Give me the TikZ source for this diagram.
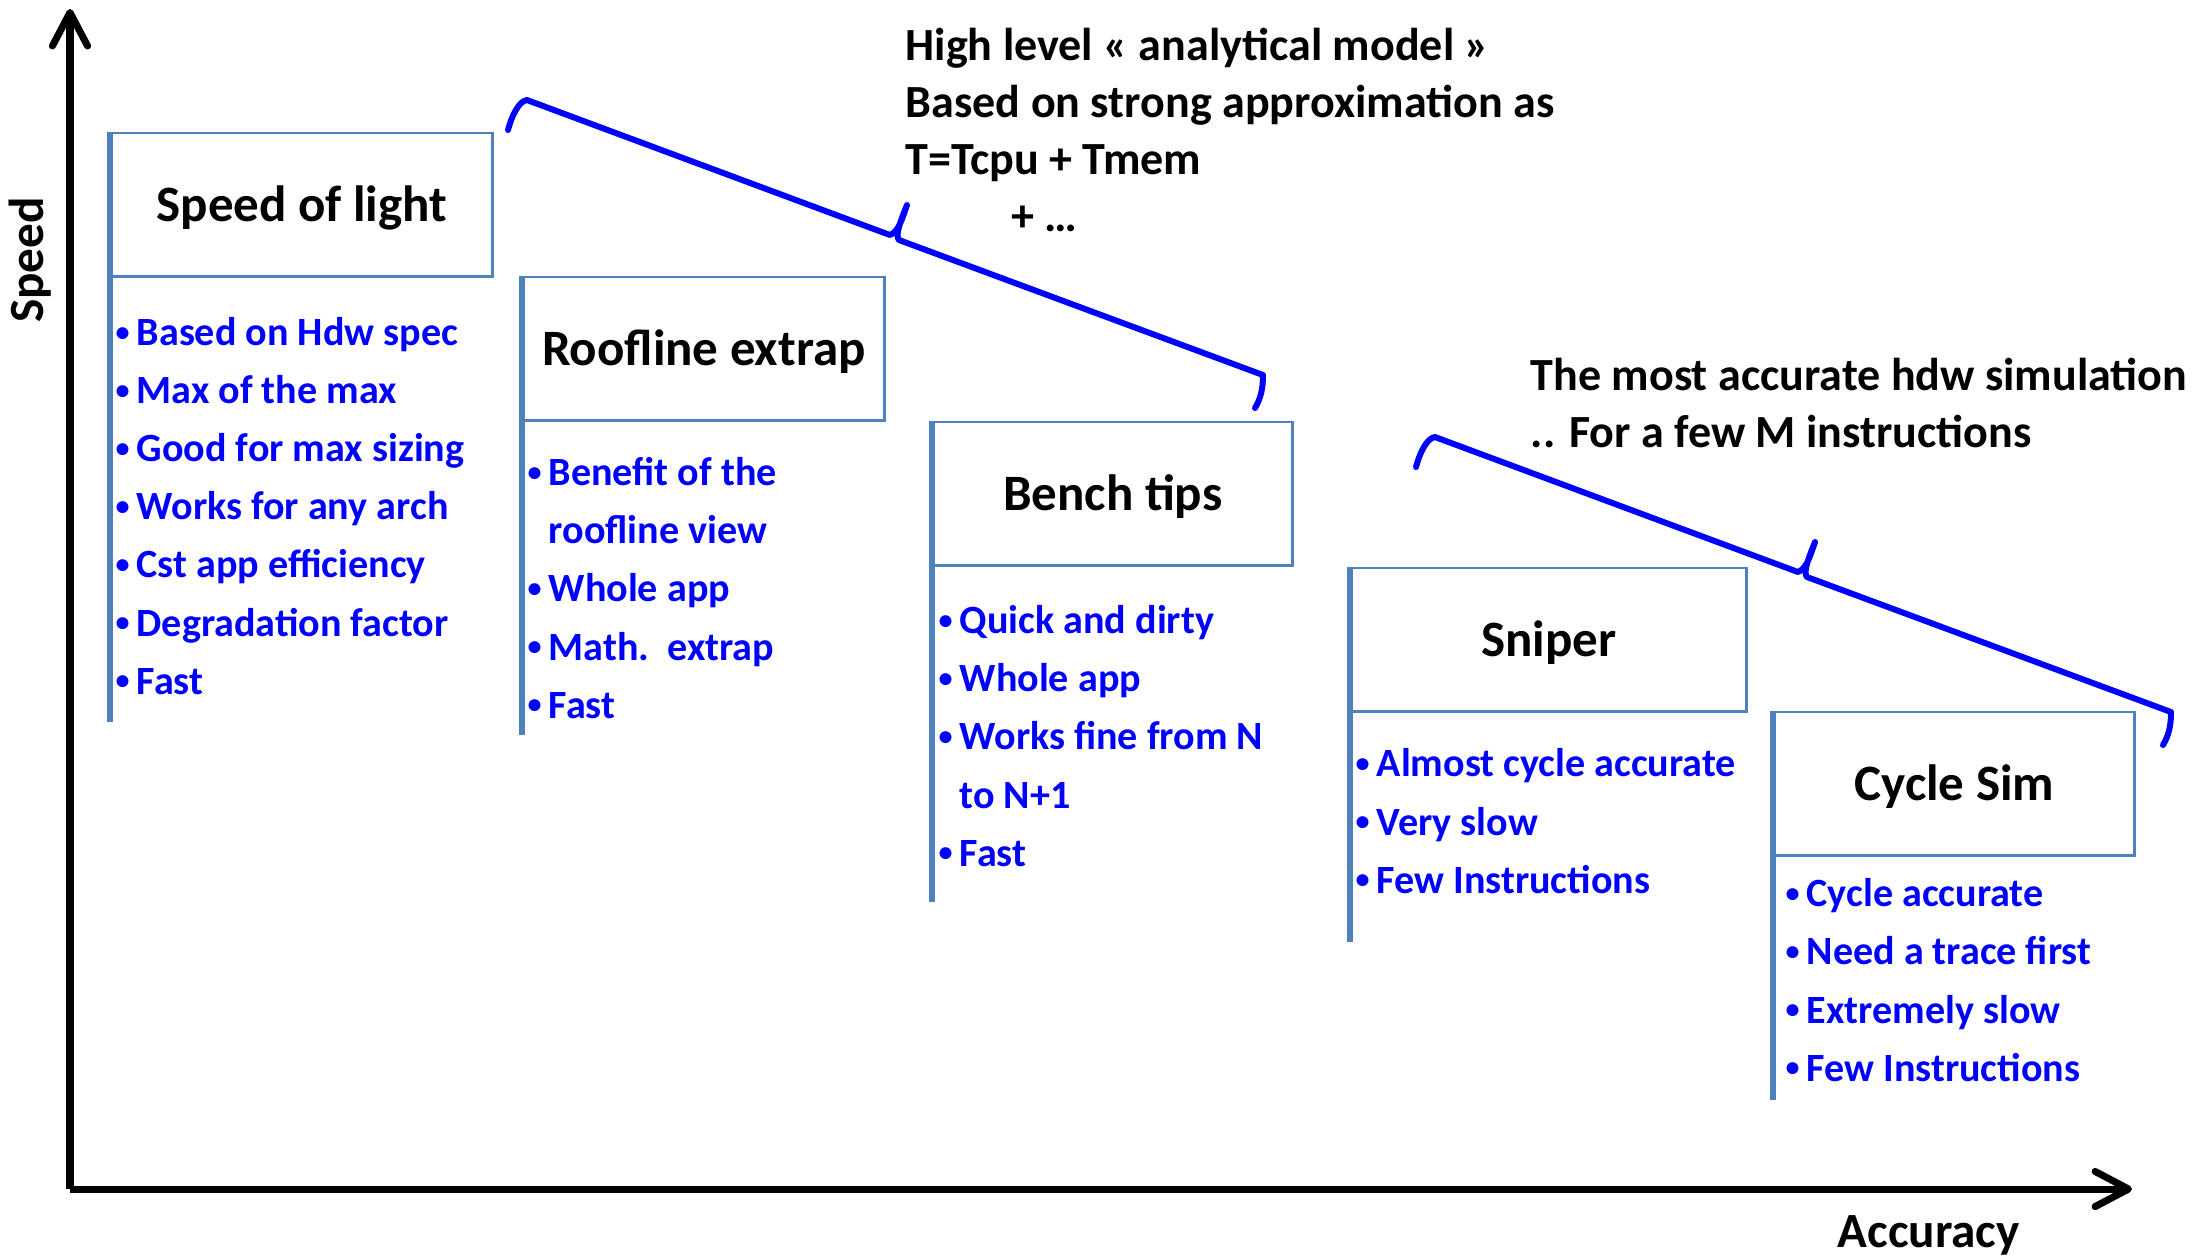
\documentclass[tikz,border=0pt]{standalone}
\usepackage{fontspec}
\setmainfont{Carlito}
\usepackage{tikz}
\usetikzlibrary{arrows.meta,calc,positioning}

\definecolor{boxblue}{HTML}{4F81BD}
\definecolor{itemblue}{HTML}{0000FF}
\newcommand{\itemdot}{\llap{\makebox[8pt]{\raisebox{1.2pt}{\fontsize{8}{8}\selectfont\textbullet}}}}

\begin{document}
\begin{tikzpicture}[x=0.01cm, y=-0.01cm,
    axis/.style={line width=2pt, -{Straight Barb[length=9.5pt, width=10pt, round]}},
    axislabel/.style={inner sep=0, font=\fontsize{14}{17}\selectfont\bfseries},
    header/.style={draw=boxblue, line width=0.7pt, anchor=north west, minimum height=1.43cm,
        text height=9.3pt, text depth=0pt, font=\fontsize{14.5}{17}\selectfont\bfseries},
    bar/.style={draw=boxblue, line width=1.5pt},
    items/.style={anchor=base west, align=left, inner sep=0, text=itemblue,
        font=\fontsize{11.4}{16.5}\selectfont\bfseries},
    note/.style={anchor=base west, align=left, inner sep=0, font=\fontsize{13.1}{16.2}\selectfont\bfseries},
    brace/.style={draw=itemblue, line width=1.7pt, line cap=round, line join=round}]

    \useasboundingbox (0,0) rectangle (2199,1256);

    % axes
    \coordinate (origin) at (70,1189);
    \draw[axis] (origin) -- (70,9);
    \draw[axis] (origin) -- (2132,1189);
    \node[axislabel, rotate=90, anchor=base] (speed) at (43,260) {Speed};
    \node[axislabel, anchor=base west] (accuracy) at (1837,1247) {Accuracy};

    % model boxes (item lists placed by their last baseline)
    \node[header, minimum width=3.81cm] (sol) at (110,132) {Speed of light};
    \draw[bar] (sol.north west) -- ++(0,590);
    \node[items] (sol-items) at (136,694) {\itemdot Based on Hdw spec\\ \itemdot Max of the max\\
        \itemdot Good for max sizing\\ \itemdot Works for any arch\\ \itemdot Cst app efficiency\\
        \itemdot Degradation factor\\ \itemdot Fast};

    \node[header, minimum width=3.61cm] (roof) at (522,276) {Roofline extrap};
    \draw[bar] (roof.north west) -- ++(0,459);
    \node[items] (roof-items) at (548,718) {\itemdot Benefit of the\\ roofline view\\
        \itemdot Whole app\\ \itemdot Math.\ \ extrap\\ \itemdot Fast};

    \node[header, minimum width=3.59cm] (bench) at (932,421) {Bench tips};
    \draw[bar] (bench.north west) -- ++(0,481);
    \node[items] (bench-items) at (959,866) {\itemdot Quick and dirty\\ \itemdot Whole app\\
        \itemdot Works fine from N\\ to N+1\\ \itemdot Fast};

    \node[header, minimum width=3.95cm] (sniper) at (1350,567) {Sniper};
    \draw[bar] (sniper.north west) -- ++(0,375);
    \node[items] (sniper-items) at (1376,893) {\itemdot Almost cycle accurate\\
        \itemdot Very slow\\ \itemdot Few Instructions};

    \node[header, minimum width=3.60cm] (cycle) at (1773,711) {Cycle Sim};
    \draw[bar] (cycle.north west) -- ++(0,389);
    \node[items] (cycle-items) at (1806,1081) {\itemdot Cycle accurate\\ \itemdot Need a trace first\\
        \itemdot Extremely slow\\ \itemdot Few Instructions};

    % braces
    \foreach \dx/\dy in {0/0, 908/337} {
        \draw[brace, shift={(\dx,\dy)}] (508,130) .. controls (512,115) and (519,101) .. (527,100)
            -- (890,235) .. controls (898,232) and (902,220) .. (907,205)
            .. controls (900,222) and (895,236) .. (899,240)
            -- (1263,375) .. controls (1263,388) and (1261,398) .. (1255,408);
    }

    % notes
    \node[note] (analytic) at (905,231) {High level « analytical model »\\
        Based on strong approximation as\\ T=Tcpu + Tmem\\ \hspace*{30pt}+ …};
    \node[note] (hdwsim) at (1530,447) {The most accurate hdw simulation\\ .. For a few M instructions};
\end{tikzpicture}
\end{document}
